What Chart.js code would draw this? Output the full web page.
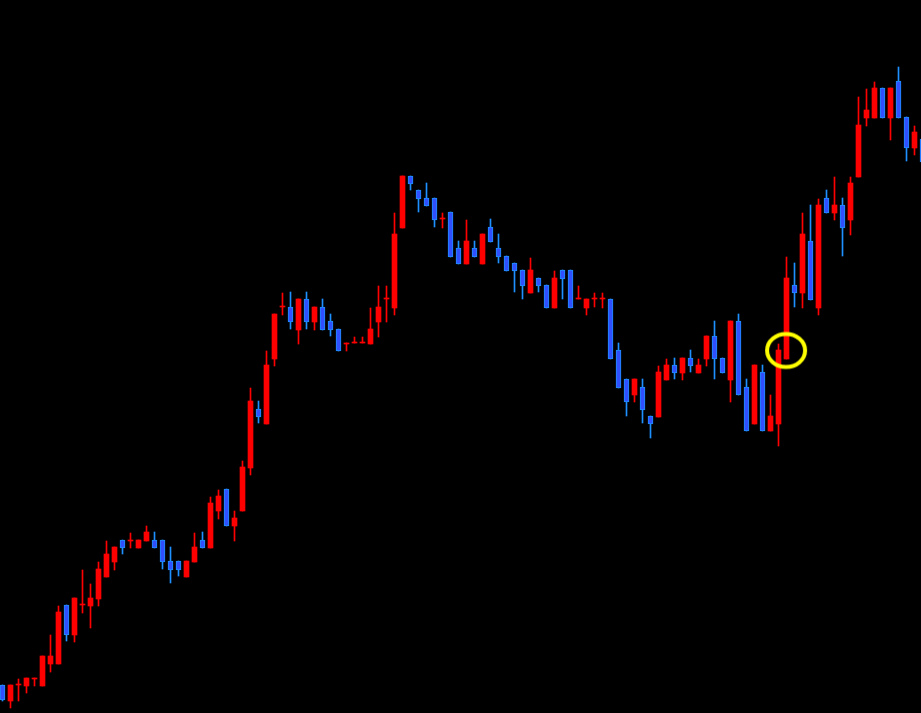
<!DOCTYPE html>
<html>
<head>
<meta charset="utf-8">
<script src="https://cdn.jsdelivr.net/npm/chart.js@4.4.1/dist/chart.umd.min.js"></script>
<style>
html, body { margin: 0; padding: 0; background: #000; overflow: hidden; }
#wrap { width: 921px; height: 713px; position: relative; }
</style>
</head>
<body>
<div id="wrap"><canvas id="myChart"></canvas></div>
<script>
// candle values, one entry per bar (oldest first)
var opens = [28,12,28,27,34,27,49,49,108,78,108,107,114,136,151,173,172,165,172,173,
    173,152,152,136,151,173,165,202,224,187,202,245,304,289,354,406,406,383,414,391,
    406,392,384,369,370,370,369,391,414,405,485,537,523,515,515,494,501,465,449,465,
    449,486,465,457,450,443,420,435,428,405,443,443,414,405,414,414,414,363,334,318,
    326,297,296,333,348,340,355,340,354,377,355,333,392,326,289,341,282,289,354,428,
    420,472,405,515,500,508,493,536,595,595,625,595,632,596,565,574];
var highs = [28,28,34,35,35,57,78,107,108,115,143,129,151,172,166,173,180,173,187,181,
    173,166,152,152,180,181,216,223,224,202,252,325,312,362,399,420,421,414,421,406,
    414,399,384,370,376,376,405,427,427,500,537,537,523,530,515,500,501,472,493,472,
    479,494,479,457,450,443,455,435,428,442,443,443,427,414,420,420,414,370,334,334,
    334,297,347,354,355,355,363,354,377,392,355,392,399,334,348,348,318,369,456,450,
    500,508,514,523,536,515,536,616,624,631,625,625,646,596,587,574];
var lows = [12,5,12,20,27,27,41,49,72,71,100,85,107,136,143,159,165,165,172,165,
    144,130,137,136,151,165,165,194,187,172,202,238,290,289,347,398,384,369,384,383,
    383,377,362,362,370,370,369,376,391,398,485,523,501,507,486,485,456,449,449,456,
    449,471,450,442,421,414,420,421,405,405,414,405,414,398,406,405,354,325,297,311,
    290,275,296,333,334,333,341,340,347,334,340,311,318,282,289,282,282,267,354,406,
    405,413,398,500,493,457,478,536,587,595,595,573,595,552,558,551];
var closes = [13,28,28,35,35,57,57,101,78,115,108,115,144,159,166,165,173,173,181,165,
    151,143,143,152,166,165,210,217,187,195,246,312,296,348,399,406,391,414,391,406,
    383,383,362,370,370,370,384,406,414,479,537,529,514,507,493,494,456,449,472,456,
    479,471,456,442,442,427,443,427,405,435,434,405,414,414,414,414,354,325,311,334,
    303,289,341,348,340,355,347,348,377,354,340,392,318,282,348,282,297,363,435,420,
    479,413,508,500,508,485,530,588,603,625,595,625,595,565,581,551];

// the yellow ring drawn around one candle
var markerX = [97.95];
var markerY = [362.5];

var upColor = '#ff0000';
var downFill = '#3050ff';
var downEdge = '#1e90ff';

var bodies = [];
var wicks = [];
var bodyFill = [];
var bodyEdge = [];
var bodyBorder = [];
var wickColor = [];
for (var i = 0; i < opens.length; i++) {
    var up = closes[i] >= opens[i];
    bodies.push({x: i, y: [opens[i], closes[i]]});
    wicks.push({x: i, y: [lows[i], highs[i]]});
    bodyFill.push(up ? upColor : downFill);
    bodyEdge.push(up ? upColor : downEdge);
    bodyBorder.push(up ? 0 : 1);
    wickColor.push(up ? upColor : downEdge);
}

var markers = [];
for (var j = 0; j < markerX.length; j++) {
    markers.push({x: markerX[j], y: markerY[j]});
}

// ring image used as the point style of the marker
var ring = document.createElement('canvas');
ring.width = 46;
ring.height = 42;
var rctx = ring.getContext('2d');
rctx.strokeStyle = '#ffff00';
rctx.lineWidth = 4;
rctx.beginPath();
rctx.ellipse(23, 21, 19, 16.5, 0, 0, Math.PI * 2);
rctx.stroke();

var ctx = document.getElementById('myChart').getContext('2d');
var chart = new Chart(ctx, {
    type: 'bar',
    data: {
        datasets: [{
            type: 'scatter',
            label: 'marker',
            data: markers,
            pointStyle: ring,
            pointRadius: 20,
            clip: false,
            order: 0
        }, {
            label: 'bodies',
            data: bodies,
            backgroundColor: bodyFill,
            borderColor: bodyEdge,
            borderWidth: bodyBorder,
            borderSkipped: false,
            barThickness: 5,
            minBarLength: 1,
            grouped: false,
            order: 1
        }, {
            label: 'wicks',
            data: wicks,
            backgroundColor: wickColor,
            borderWidth: 0,
            barThickness: 1,
            minBarLength: 1,
            grouped: false,
            order: 2
        }]
    },
    options: {
        responsive: true,
        maintainAspectRatio: false,
        animation: false,
        events: [],
        layout: { padding: 0, autoPadding: false },
        plugins: {
            legend: { display: false },
            tooltip: { enabled: false }
        },
        scales: {
            x: {
                type: 'linear',
                min: -0.3125,
                max: 114.8125,
                offset: false,
                display: false
            },
            y: {
                type: 'linear',
                min: 0,
                max: 713,
                display: false
            }
        }
    }
});
</script>
</body>
</html>
